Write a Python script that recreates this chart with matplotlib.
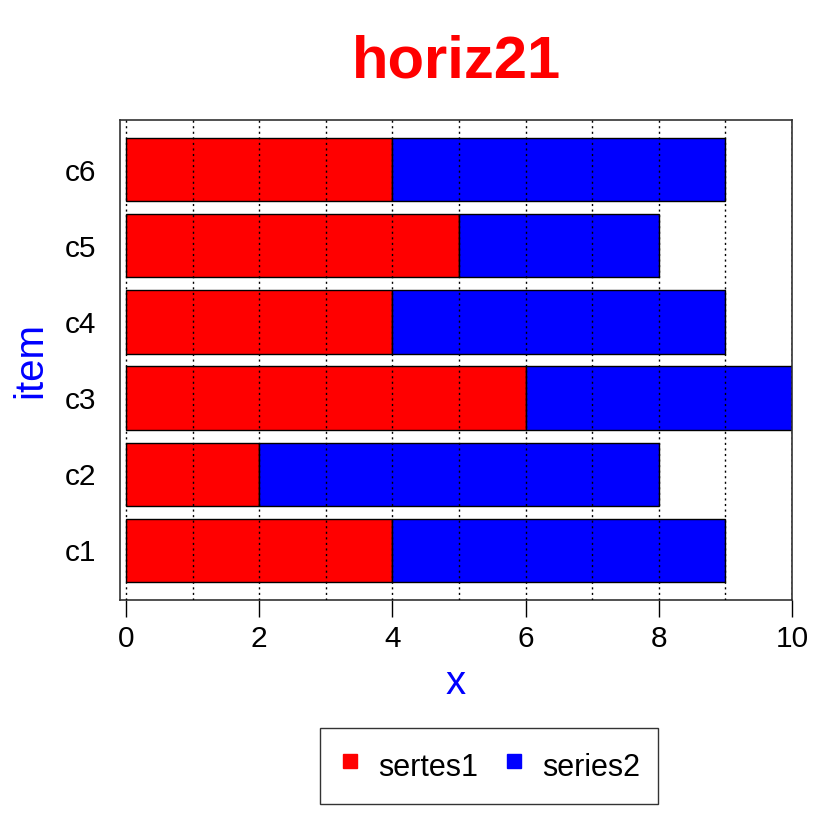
import numpy as np
import matplotlib.pyplot as plt
from matplotlib.lines import Line2D

plt.rcParams['font.family'] = ['Liberation Sans', 'DejaVu Sans']

items = ['c1', 'c2', 'c3', 'c4', 'c5', 'c6']
series1 = [4, 2, 6, 4, 5, 4]
series2 = [5, 6, 4, 5, 3, 5]
legend_labels = ['sertes1', 'series2']

fig = plt.figure(figsize=(8.4, 8.4), dpi=100)
ax = fig.add_axes([120 / 840, 1 - 600 / 840, 672 / 840, 480 / 840])

pos = 0.7 + 1.2 * np.arange(len(items))
ax.barh(pos, series1, height=1, color='red', edgecolor='black', linewidth=1, zorder=2)
ax.barh(pos, series2, left=series1, height=1, color='blue', edgecolor='black', linewidth=1, zorder=2)

for gx in range(0, 11):
    ax.axvline(gx, color='black', linestyle=(0, (1.5, 2.5)), linewidth=1, zorder=3)

ax.set_xlim(-0.09, 10)
ax.set_ylim(-0.08, 7.48)
ax.set_xticks(range(0, 11, 2))
ax.set_yticks(pos)
ax.set_yticklabels(items)
ax.tick_params(axis='x', length=12, width=1, labelsize=21.5, pad=6)
ax.tick_params(axis='y', length=0, labelsize=21.5, pad=17)
for s in ax.spines.values():
    s.set_linewidth(1.2)
    s.set_color('#333333')

ax.set_xlabel('x', color='blue', fontsize=29, labelpad=8)
ax.set_ylabel('item', color='blue', fontsize=29)
ax.yaxis.set_label_coords(-0.105, 0.5)
fig.text(456 / 840, 1 - 62 / 840, 'horiz21', color='red', fontsize=43,
         fontweight='bold', ha='center', va='center')

handles = [Line2D([], [], marker='s', linestyle='none', color=c, markersize=10)
           for c in ['red', 'blue']]
leg = fig.legend(handles, legend_labels, loc='center', bbox_to_anchor=(489 / 840, 1 - 766 / 840),
                 ncol=2, fontsize=22, frameon=True, fancybox=False, edgecolor='black',
                 handletextpad=0.5, columnspacing=0.8, borderpad=0.6, handlelength=0.8,
                 handleheight=1.6)
leg.get_frame().set_linewidth(1)

fig.savefig('out.png', dpi=100)
